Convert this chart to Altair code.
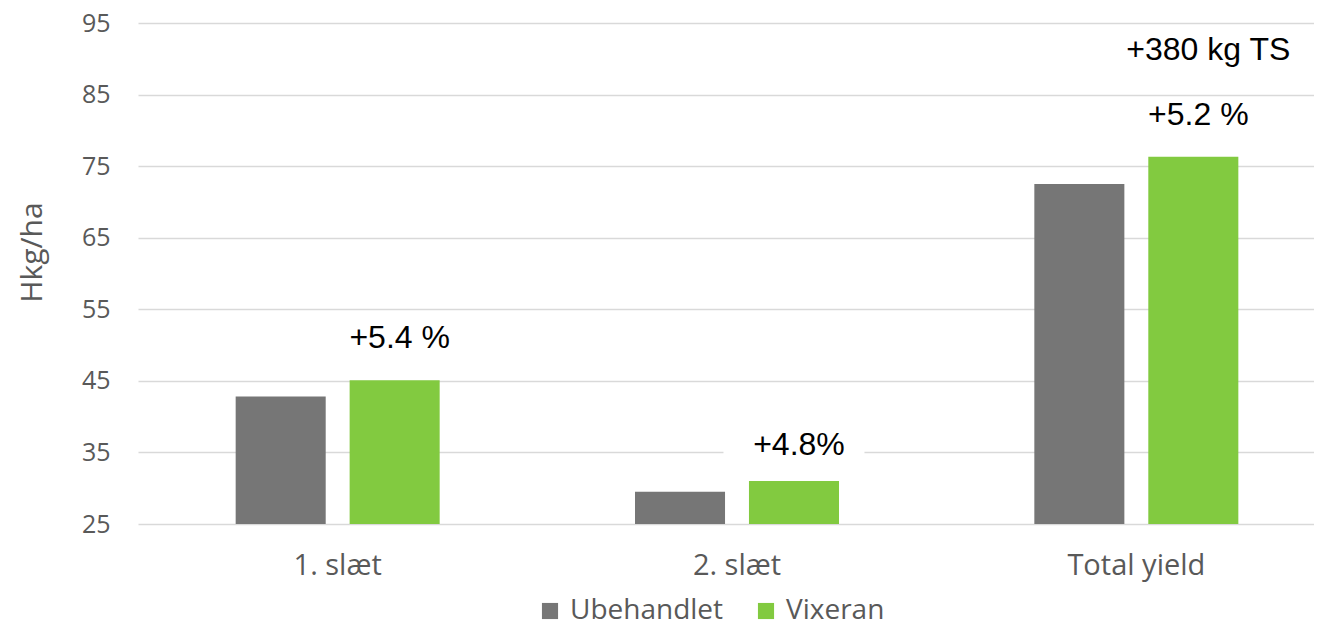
import altair as alt
import pandas as pd

categories = ["1. slæt", "2. slæt", "Total yield"]
series = ["Ubehandlet", "Vixeran"]
ubehandlet = [42.8, 29.5, 72.5]
vixeran = [45.1, 31.0, 76.3]
colors = ["#767676", "#82CA40"]

label_texts = ["+5.4 %", "+4.8%", "+5.2 %", "+380 kg TS"]
label_cats = ["1. slæt", "2. slæt", "Total yield", "Total yield"]
label_y = [51.0, 36.0, 82.1, 91.2]

rows = []
for c, u, v in zip(categories, ubehandlet, vixeran):
    rows.append({"cat": c, "series": "Ubehandlet", "value": u})
    rows.append({"cat": c, "series": "Vixeran", "value": v})
df = pd.DataFrame(rows)

lab = pd.DataFrame({"cat": label_cats, "txt": label_texts, "y": label_y,
                    "series": ["Vixeran"] * 4})

FONT = "Open Sans"
xscale = alt.Scale(domain=categories, range=[0, 1198], paddingInner=0, paddingOuter=0)
offscale = alt.Scale(domain=series, paddingInner=0.21, paddingOuter=0.857)
yscale = alt.Scale(domain=[25, 95], nice=False, zero=False)

x = alt.X("cat:N", scale=xscale, sort=categories, title=None,
          axis=alt.Axis(labelAngle=0, labelAlign="center", labelBaseline="middle",
                        labelFontSize=29, labelColor="#595959",
                        labelFont=FONT, ticks=False, domain=False, labelPadding=41,
                        grid=False))

bars = alt.Chart(df).mark_bar().encode(
    x=x,
    xOffset=alt.XOffset("series:N", scale=offscale, sort=series),
    y=alt.Y("value:Q", scale=yscale,
            axis=alt.Axis(values=[25, 35, 45, 55, 65, 75, 85, 95], title="Hkg/ha",
                          titleFontSize=30, titleFont=FONT, titleFontWeight="normal",
                          titleColor="#595959", titlePadding=34, titleY=229,
                          labelFontSize=25, labelFont=FONT, labelColor="#595959",
                          labelPadding=28, ticks=False, domain=False,
                          gridColor="#d9d9d9", gridWidth=1.5)),
    y2=alt.datum(25),
    color=alt.Color("series:N", scale=alt.Scale(domain=series, range=colors),
                    legend=alt.Legend(title=None, orient="none", legendX=398, legendY=574,
                                      direction="horizontal", symbolType="square",
                                      symbolSize=260, symbolStrokeWidth=0,
                                      labelFontSize=28, labelFont=FONT, labelLimit=400,
                                      labelColor="#595959", columnPadding=28,
                                      labelOffset=6)),
)

bg = alt.Chart(lab[lab["txt"] == "+4.8%"]).mark_bar(color="white", width=141).encode(
    x=alt.X("cat:N", scale=xscale, sort=categories),
    xOffset=alt.XOffset("series:N", scale=offscale, sort=series),
    y=alt.Y("y0:Q", scale=yscale),
    y2="y1:Q",
).transform_calculate(y0="datum.y - 2.5", y1="datum.y + 2.5")

def text_layer(data, dx):
    return alt.Chart(data).mark_text(fontSize=32, font="Liberation Sans", color="black",
                                     baseline="middle", dx=dx).encode(
        x=alt.X("cat:N", scale=xscale, sort=categories),
        xOffset=alt.XOffset("series:N", scale=offscale, sort=series),
        y=alt.Y("y:Q", scale=yscale),
        text="txt:N",
    )

texts_main = text_layer(lab[lab["txt"] != "+380 kg TS"], 5)
texts_ts = text_layer(lab[lab["txt"] == "+380 kg TS"], 15)

chart = alt.layer(bg, bars, texts_main, texts_ts).properties(
    width=1176, height=501,
    autosize=alt.AutoSizeParams(type="none"),
    padding={"left": 130, "top": 15, "right": 0, "bottom": 105},
).configure_view(stroke=None).configure_axis(labelFont=FONT, titleFont=FONT)

chart.save("out.html", embed_options={"renderer": "svg", "actions": False})
